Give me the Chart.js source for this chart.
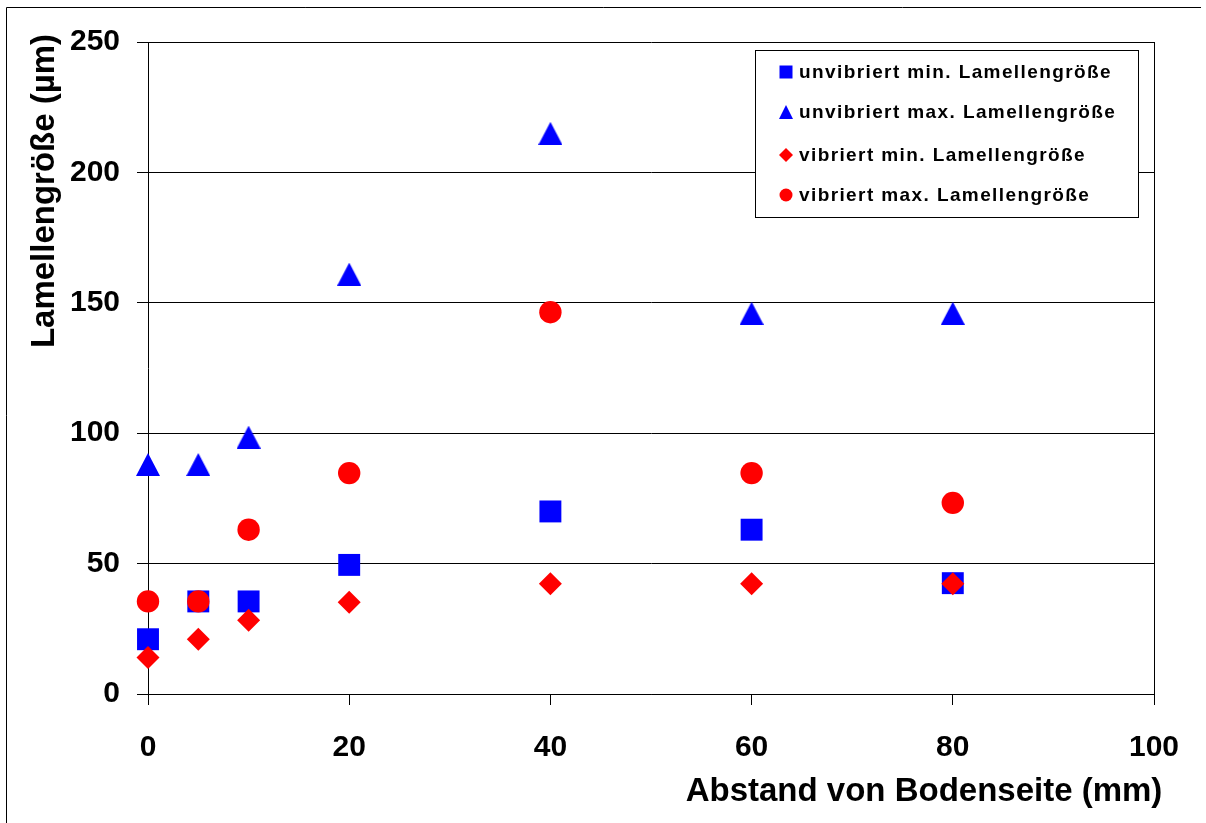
<!DOCTYPE html>
<html>
<head>
<meta charset="utf-8">
<script src="https://cdn.jsdelivr.net/npm/chart.js@4.4.0/dist/chart.umd.min.js"></script>
<style>
html, body { margin: 0; padding: 0; background: #fff; }
#wrap { width: 1206px; height: 823px; }
</style>
</head>
<body>
<div id="wrap"><canvas id="scatterChart" width="1206" height="823"></canvas></div>
<script>
const distances = [0, 5, 10, 20, 40, 60, 80];
const unvibMin = [21, 35.5, 35.5, 49.5, 70, 63, 42.5];
const unvibMax = [88, 88, 98.5, 161, 215, 146, 146];
const vibMin = [14, 21, 28.3, 35.2, 42.3, 42.3, 42.3];
const vibMax = [35.5, 35.5, 63, 84.7, 146.4, 84.7, 73.3];
const seriesLabels = [
    'unvibriert min. Lamellengröße',
    'unvibriert max. Lamellengröße',
    'vibriert min. Lamellengröße',
    'vibriert max. Lamellengröße'
];
const xTitle = 'Abstand von Bodenseite (mm)';
const yTitle = 'Lamellengröße (µm)';

const FONT = "'Liberation Sans', Arial, sans-serif";
const BLUE = '#0000ff';
const RED = '#ff0000';

// Excel style triangle, centred in its box
function makeTriangle(w, h, color) {
    const c = document.createElement('canvas');
    c.width = w;
    c.height = h;
    const g = c.getContext('2d');
    g.fillStyle = color;
    g.beginPath();
    g.moveTo(w / 2, 0);
    g.lineTo(w, h);
    g.lineTo(0, h);
    g.closePath();
    g.fill();
    return c;
}

function toPoints(values) {
    return distances.map((d, i) => ({ x: d, y: values[i] }));
}

// frame, legend box and axis titles
const decorPlugin = {
    id: 'decor',
    beforeDraw(chart) {
        const ctx = chart.ctx;
        ctx.save();
        ctx.strokeStyle = '#000';
        ctx.lineWidth = 1;
        ctx.beginPath();
        ctx.moveTo(6.5, 830);
        ctx.lineTo(6.5, 7.5);
        ctx.lineTo(1201, 7.5);
        ctx.stroke();
        ctx.restore();
    },
    afterDraw(chart) {
        const ctx = chart.ctx;
        ctx.save();
        ctx.fillStyle = '#000';
        ctx.font = 'bold 33px ' + FONT;
        ctx.textAlign = 'center';
        ctx.textBaseline = 'middle';
        ctx.fillText(xTitle, 924, 792);
        ctx.translate(45, 191);
        ctx.rotate(-Math.PI / 2);
        ctx.fillText(yTitle, 0, 0);
        ctx.restore();

        // legend
        ctx.save();
        ctx.fillStyle = '#fff';
        ctx.fillRect(756, 50, 383, 168);
        ctx.strokeStyle = '#000';
        ctx.lineWidth = 1;
        ctx.strokeRect(755.5, 50.5, 383, 167);
        const rows = [72, 112, 155, 195];
        const mx = 786;
        seriesLabels.forEach((label, i) => {
            const y = rows[i];
            ctx.beginPath();
            if (i === 0) {
                ctx.fillStyle = BLUE;
                ctx.rect(mx - 6.5, y - 6.5, 13, 13);
            } else if (i === 1) {
                ctx.fillStyle = BLUE;
                ctx.moveTo(mx, y - 7);
                ctx.lineTo(mx + 7, y + 7);
                ctx.lineTo(mx - 7, y + 7);
            } else if (i === 2) {
                ctx.fillStyle = RED;
                ctx.moveTo(mx, y - 7);
                ctx.lineTo(mx + 7, y);
                ctx.lineTo(mx, y + 7);
                ctx.lineTo(mx - 7, y);
            } else {
                ctx.fillStyle = RED;
                ctx.arc(mx, y, 6.5, 0, Math.PI * 2);
            }
            ctx.closePath();
            ctx.fill();
            ctx.fillStyle = '#000';
            ctx.font = 'bold 19px ' + FONT;
            ctx.letterSpacing = '1.4px';
            ctx.textAlign = 'left';
            ctx.textBaseline = 'middle';
            ctx.fillText(label, 799, y + 1);
        });
        ctx.restore();
    }
};

document.addEventListener('DOMContentLoaded', function () {
    const ctx = document.getElementById('scatterChart').getContext('2d');
    new Chart(ctx, {
        type: 'scatter',
        data: {
            datasets: [{
                label: seriesLabels[0],
                data: toPoints(unvibMin),
                pointStyle: 'rect',
                pointRadius: 15.5,
                backgroundColor: BLUE,
                borderWidth: 0,
                clip: false,
                order: 4
            }, {
                label: seriesLabels[1],
                data: toPoints(unvibMax),
                pointStyle: makeTriangle(24, 23, BLUE),
                pointRadius: 12,
                backgroundColor: BLUE,
                borderWidth: 0,
                clip: false,
                order: 3
            }, {
                label: seriesLabels[2],
                data: toPoints(vibMin),
                pointStyle: 'rectRot',
                pointRadius: 11.5,
                backgroundColor: RED,
                borderWidth: 0,
                clip: false,
                order: 2
            }, {
                label: seriesLabels[3],
                data: toPoints(vibMax),
                pointStyle: 'circle',
                pointRadius: 11.2,
                backgroundColor: RED,
                borderWidth: 0,
                clip: false,
                order: 1
            }]
        },
        options: {
            responsive: false,
            animation: false,
            events: [],
            layout: { padding: { top: 42, right: 52, left: 0, bottom: 0 } },
            plugins: {
                legend: { display: false },
                tooltip: { enabled: false }
            },
            scales: {
                x: {
                    type: 'linear',
                    min: 0,
                    max: 100,
                    afterFit: scale => { scale.height = 129; },
                    ticks: {
                        stepSize: 20,
                        color: '#000',
                        padding: 25,
                        font: { family: FONT, size: 30, weight: 'bold' }
                    },
                    grid: {
                        color: c => (c.tick && c.tick.value === 100 ? '#000' : 'rgba(0,0,0,0)'),
                        tickColor: '#000',
                        tickLength: 11,
                        lineWidth: 1
                    },
                    border: { display: true, color: '#000', width: 1 }
                },
                y: {
                    min: 0,
                    max: 250,
                    afterFit: scale => { scale.width = 148; },
                    ticks: {
                        stepSize: 50,
                        color: '#000',
                        padding: 17,
                        font: { family: FONT, size: 30, weight: 'bold' }
                    },
                    grid: {
                        color: '#000',
                        tickColor: '#000',
                        tickLength: 11,
                        lineWidth: 1
                    },
                    border: { display: true, color: '#000', width: 1 }
                }
            }
        },
        plugins: [decorPlugin]
    });
});
</script>
</body>
</html>
